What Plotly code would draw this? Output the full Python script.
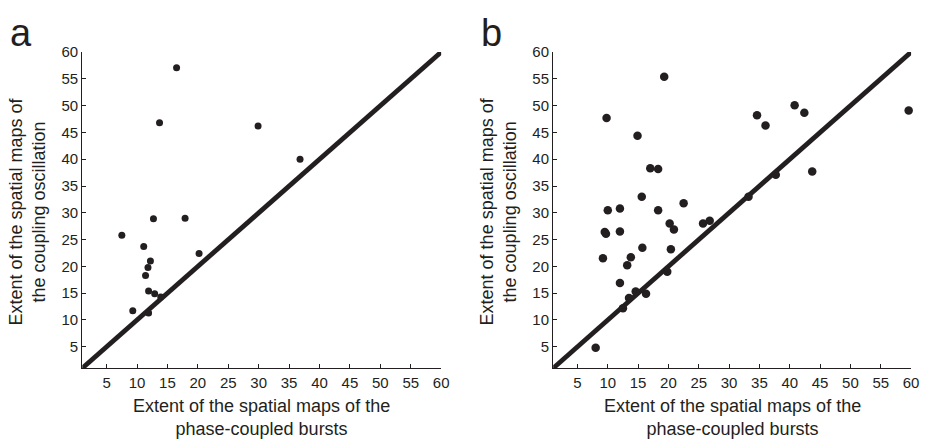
import plotly.graph_objects as go

# Panel a: extent of phase-coupled bursts vs. extent of coupling oscillation
a_bursts = [16.5, 13.7, 29.9, 36.8, 12.7, 17.9, 7.5, 11.1, 20.2, 12.2, 11.8, 11.4,
            11.9, 12.9, 13.9, 9.3, 11.9]
a_oscillation = [57.1, 46.8, 46.2, 40.0, 28.9, 29.0, 25.8, 23.7, 22.4, 21.0, 19.8, 18.3,
                 15.4, 14.9, 14.3, 11.7, 11.3]

# Panel b
b_bursts = [19.3, 9.8, 14.9, 59.6, 40.8, 42.4, 34.6, 36.0, 43.7, 37.7, 17.0, 18.3,
            15.6, 33.2, 22.5, 10.0, 12.0, 18.3, 20.2, 20.9, 25.7, 26.8, 9.5, 9.7,
            12.0, 9.2, 13.8, 13.2, 15.7, 20.4, 12.0, 19.8, 14.6, 16.3, 13.5, 12.5, 8.0]
b_oscillation = [55.4, 47.7, 44.4, 49.1, 50.1, 48.7, 48.2, 46.3, 37.7, 37.1, 38.3, 38.2,
                 33.0, 33.0, 31.8, 30.5, 30.8, 30.5, 28.0, 26.9, 28.0, 28.5, 26.4, 26.1,
                 26.5, 21.5, 21.7, 20.2, 23.5, 23.2, 16.9, 19.0, 15.3, 14.9, 14.1, 12.2, 4.8]

# Identity line and axis ticks
identity = [1, 60]
tick_vals = [5, 10, 15, 20, 25, 30, 35, 40, 45, 50, 55, 60]
axis_range = [1, 60]

INK = "#231f20"
FONT = "Liberation Sans, Arial, Helvetica, sans-serif"

fig = go.Figure()

panels = [
    ("x", "y", a_bursts, a_oscillation, 7),
    ("x2", "y2", b_bursts, b_oscillation, 8.5),
]
for xa, ya, xs, ys, msize in panels:
    fig.add_trace(go.Scatter(
        x=identity, y=identity, xaxis=xa, yaxis=ya, mode="lines",
        line=dict(color=INK, width=4.8), hoverinfo="skip", showlegend=False))
    fig.add_trace(go.Scatter(
        x=xs, y=ys, xaxis=xa, yaxis=ya, mode="markers",
        marker=dict(color=INK, size=msize, line=dict(width=0)),
        cliponaxis=False, showlegend=False))

axis_style = dict(
    range=axis_range, tickvals=tick_vals, showgrid=False, zeroline=False,
    showline=True, linecolor=INK, linewidth=1.3, ticks="inside", ticklen=4,
    tickwidth=1.2, tickcolor=INK, tickfont=dict(family=FONT, size=15, color=INK),
    fixedrange=True,
)

y_dom = [(439 - 366.7) / 439, (439 - 44) / 439]
fig.update_layout(
    width=930, height=439,
    margin=dict(l=0, r=0, t=0, b=0),
    paper_bgcolor="white", plot_bgcolor="white",
    xaxis=dict(domain=[83 / 930, 445 / 930], anchor="y", ticklabelstandoff=1, **axis_style),
    yaxis=dict(domain=y_dom, anchor="x", **axis_style),
    xaxis2=dict(domain=[558 / 930, 919 / 930], anchor="y2", ticklabelstandoff=1, **axis_style),
    yaxis2=dict(domain=y_dom, anchor="x2", **axis_style),
)

x_title = "Extent of the spatial maps of the<br>phase-coupled bursts"
y_title = "Extent of the spatial maps of<br>the coupling oscillation"
title_font = dict(family=FONT, size=18, color=INK)

annotations = []
for label, x_left, x_right in [("a", 83, 445), ("b", 558, 919)]:
    cx = (x_left + x_right) / 2 / 930
    annotations.append(dict(
        text=x_title, x=cx, y=(439 - 417) / 439, xref="paper", yref="paper",
        xanchor="center", yanchor="middle",
        showarrow=False, font=title_font, align="center"))
    annotations.append(dict(
        text=y_title, x=(x_left - 55) / 930, y=(439 - 207) / 439, xref="paper",
        yref="paper", xanchor="center", yanchor="middle",
        showarrow=False, font=title_font, textangle=-90, align="center"))
    annotations.append(dict(
        text=label, x=(x_left - 62) / 930, y=(439 - 24) / 439, xref="paper",
        yref="paper", xanchor="center", yanchor="middle",
        showarrow=False, font=dict(family=FONT, size=38, color=INK)))

fig.update_layout(annotations=annotations)
fig.write_html("out.html")
